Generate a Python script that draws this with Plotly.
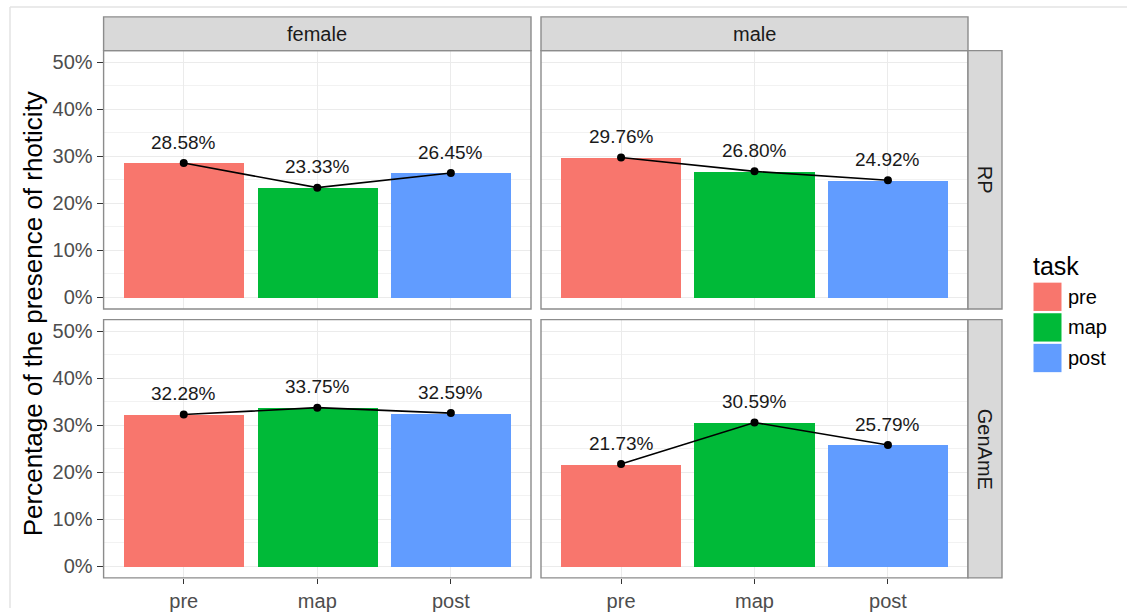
import plotly.graph_objects as go

# ---- data ----
tasks = ["pre", "map", "post"]
genders = ["female", "male"]
accents = ["RP", "GenAmE"]
rp_female = [28.58, 23.33, 26.45]
rp_male = [29.76, 26.80, 24.92]
gen_female = [32.28, 33.75, 32.59]
gen_male = [21.73, 30.59, 25.79]
y_ticks = [0, 10, 20, 30, 40, 50]
y_ticklabels = ["0%", "10%", "20%", "30%", "40%", "50%"]
task_colors = ["#F8766D", "#00BA38", "#619CFF"]
y_title = "Percentage of the presence of rhoticity"
legend_title = "task"

W, H = 1127, 612
FONT = "Liberation Sans, Arial, Helvetica, sans-serif"


def px(x):
    return x / W


def py(y):
    return 1 - y / H


# panel pixel boxes
col_x = [(103.6, 531.0), (541.0, 968.0)]
row_y = [(51.0, 311.0), (321.7, 581.7)]
strip_top = (17.0, 51.0)
strip_right = (968.0, 1002.0)

panel_values = [[rp_female, rp_male], [gen_female, gen_male]]

fig = go.Figure()
layout_axes = {}
shapes = []
annotations = []

idx = 0
for r in range(2):
    for c in range(2):
        idx += 1
        sfx = "" if idx == 1 else str(idx)
        xa, ya = "x" + sfx, "y" + sfx
        vals = panel_values[r][c]
        fig.add_trace(go.Bar(
            x=tasks, y=vals, width=0.9,
            marker=dict(color=task_colors, line=dict(width=0)),
            xaxis=xa, yaxis=ya, showlegend=False, hoverinfo="skip",
        ))
        fig.add_trace(go.Scatter(
            x=tasks, y=vals, mode="lines+markers",
            line=dict(color="black", width=1.6),
            marker=dict(color="black", size=8),
            xaxis=xa, yaxis=ya, showlegend=False, hoverinfo="skip",
        ))
        for t, v in zip(tasks, vals):
            annotations.append(dict(
                x=t, y=v, xref=xa, yref=ya, text=f"{v:.2f}%",
                showarrow=False, yshift=21, yanchor="middle",
                font=dict(family=FONT, size=19, color="#1a1a1a"),
            ))
        x0, x1 = col_x[c]
        y0, y1 = row_y[r]
        layout_axes["xaxis" + sfx] = dict(
            domain=[px(x0), px(x1)], anchor=ya,
            type="category", categoryorder="array", categoryarray=tasks,
            range=[-0.6, 2.6], showgrid=True, gridcolor="#ebebeb", gridwidth=1.2,
            zeroline=False, showline=False,
            showticklabels=(r == 1), ticks="outside" if r == 1 else "",
            ticklen=5, tickcolor="#333333", tickwidth=1,
            tickfont=dict(family=FONT, size=20, color="#4d4d4d"),
            fixedrange=True,
        )
        layout_axes["yaxis" + sfx] = dict(
            domain=[py(y1), py(y0)], anchor=xa,
            range=[-2.5, 52.5], tickmode="array", tickvals=y_ticks,
            ticktext=y_ticklabels,
            showgrid=True, gridcolor="#ebebeb", gridwidth=1.2,
            minor=dict(dtick=5, tick0=0, showgrid=True, gridcolor="#f2f2f2", gridwidth=0.8),
            zeroline=False, showline=False,
            showticklabels=(c == 0), ticks="outside" if c == 0 else "",
            ticklen=6, tickcolor="#333333", tickwidth=1,
            tickfont=dict(family=FONT, size=20, color="#4d4d4d"),
            fixedrange=True,
        )
        # panel border
        shapes.append(dict(type="rect", xref="paper", yref="paper",
                           x0=px(x0), x1=px(x1), y0=py(y1), y1=py(y0),
                           line=dict(color="#8c8c8c", width=1.4),
                           fillcolor="rgba(0,0,0,0)", layer="above"))

# top strips
for c, g in enumerate(genders):
    x0, x1 = col_x[c]
    shapes.append(dict(type="rect", xref="paper", yref="paper",
                       x0=px(x0), x1=px(x1), y0=py(strip_top[1]), y1=py(strip_top[0]),
                       line=dict(color="#8c8c8c", width=1.4), fillcolor="#d9d9d9"))
    annotations.append(dict(x=px((x0 + x1) / 2), y=py(sum(strip_top) / 2),
                            xref="paper", yref="paper", text=g, showarrow=False,
                            xanchor="center", yanchor="middle",
                            font=dict(family=FONT, size=20, color="#1a1a1a")))
# right strips
for r, a in enumerate(accents):
    y0, y1 = row_y[r]
    shapes.append(dict(type="rect", xref="paper", yref="paper",
                       x0=px(strip_right[0]), x1=px(strip_right[1]), y0=py(y1), y1=py(y0),
                       line=dict(color="#8c8c8c", width=1.4), fillcolor="#d9d9d9"))
    annotations.append(dict(x=px(sum(strip_right) / 2), y=py((y0 + y1) / 2),
                            xref="paper", yref="paper", text=a, showarrow=False,
                            textangle=90, xanchor="center", yanchor="middle",
                            font=dict(family=FONT, size=20, color="#1a1a1a")))

# y-axis title
annotations.append(dict(x=px(33), y=py((row_y[0][0] + row_y[1][1]) / 2),
                        xref="paper", yref="paper", text=y_title, showarrow=False,
                        textangle=-90, xanchor="center", yanchor="middle",
                        font=dict(family=FONT, size=26, color="black")))

# legend (manual)
annotations.append(dict(x=px(1031), y=py(268), xref="paper", yref="paper",
                        text=legend_title, showarrow=False, xanchor="left", yanchor="middle",
                        font=dict(family=FONT, size=25, color="black")))
key_top = 284.5
for i, (t, col) in enumerate(zip(tasks, task_colors)):
    ky0 = key_top + i * 30.8
    ky1 = ky0 + 28.5
    shapes.append(dict(type="rect", xref="paper", yref="paper",
                       x0=px(1033.5), x1=px(1061.5), y0=py(ky1), y1=py(ky0),
                       line=dict(width=0), fillcolor=col))
    annotations.append(dict(x=px(1066), y=py((ky0 + ky1) / 2), xref="paper", yref="paper",
                            text=t, showarrow=False, xanchor="left", yanchor="middle",
                            font=dict(family=FONT, size=20, color="black")))

# outer frame lines of the screenshot
shapes.append(dict(type="line", xref="paper", yref="paper",
                   x0=px(10), x1=1, y0=py(7), y1=py(7),
                   line=dict(color="#e3e3e3", width=1.5)))
shapes.append(dict(type="line", xref="paper", yref="paper",
                   x0=px(10), x1=px(10), y0=0, y1=py(7),
                   line=dict(color="#e3e3e3", width=1.5)))

fig.update_layout(
    width=W, height=H, margin=dict(l=0, r=0, t=0, b=0),
    paper_bgcolor="white", plot_bgcolor="white",
    shapes=shapes, annotations=annotations, showlegend=False,
    bargap=0, **layout_axes,
)

fig.write_html(
    "out.html",
    config={"displayModeBar": False},
    post_script="document.body.style.margin='0px';document.body.style.overflow='hidden';",
)
